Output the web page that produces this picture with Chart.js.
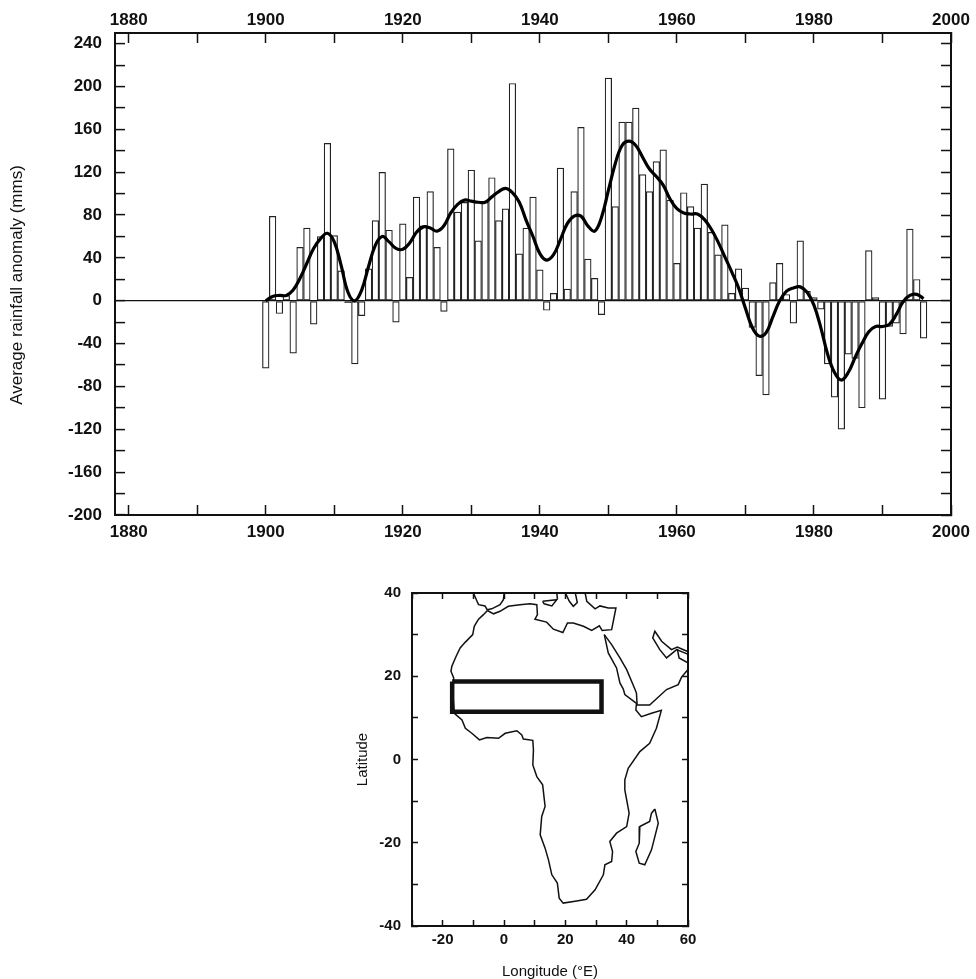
<!DOCTYPE html>
<html>
<head>
<meta charset="utf-8">
<title>Sahel rainfall anomaly</title>
<script src="https://cdn.jsdelivr.net/npm/chart.js@4"></script>
<style>
html, body { margin: 0; padding: 0; background: #fff; }
#wrap { position: relative; width: 976px; height: 979px; overflow: hidden; }
#wrap div { position: absolute; left: 0; width: 976px; }
#anomalyBox { top: 0; height: 560px; }
#mapBox { top: 560px; height: 419px; }
</style>
</head>
<body>
<div id="wrap">
    <div id="anomalyBox"><canvas id="anomalyChart"></canvas></div>
    <div id="mapBox"><canvas id="mapChart"></canvas></div>
</div>
<script>
// yearly anomaly, 1900 to 1996
var firstYear = 1900;
var rainAnomaly = [
    -63, 79, -12, 5, -49, 50, 68, -22, 60, 147,
    61, 28, -2, -59, -14, 30, 75, 120, 66, -20,
    72, 22, 97, 70, 102, 50, -10, 142, 83, 92,
    122, 56, 92, 115, 75, 86, 203, 44, 68, 97,
    29, -9, 7, 124, 11, 102, 162, 39, 21, -13,
    208, 88, 167, 167, 180, 118, 102, 130, 141, 94,
    35, 101, 88, 68, 109, 64, 43, 71, 7, 30,
    12, -25, -70, -88, 17, 35, 6, -21, 56, 9,
    3, -8, -59, -90, -120, -50, -54, -100, 47, 3,
    -92, -24, -21, -31, 67, 20, -35
];
// the smoothed heavy curve
var rainSmooth = [
    0, 4, 5, 5, 10, 21, 35, 49, 58, 63,
    55, 33, 8, 0, 10, 32, 52, 60, 55, 49,
    48, 54, 64, 69, 68, 65, 70, 82, 90, 94,
    93, 92, 92, 97, 102, 105, 101, 92, 75, 60,
    44, 38, 43, 57, 72, 79, 79, 70, 65, 78,
    103, 128, 145, 149, 145, 134, 123, 116, 108, 95,
    86, 82, 81, 81, 76, 67, 55, 41, 27, 12,
    -7, -25, -33, -30, -15, 0, 9, 12, 13, 8,
    -4, -25, -50, -67, -74, -67, -53, -40, -29, -24,
    -24, -22, -13, -1, 5, 6, 2
];

// outlines for the map, [longitude, latitude]
var africaCoast = [
    [-5.4, 35.8], [-6.7, 34.8], [-8.3, 33.7], [-9.7, 32], [-10.2, 30], [-12.6, 28.2], [-14.3, 26.8],
    [-15.6, 24.8], [-17, 22.4], [-17.3, 21.2], [-16.4, 19.6], [-16.7, 16], [-16.2, 11.1], [-13.7, 9.5],
    [-12.6, 7.5], [-10.5, 6.3], [-8, 4.7], [-5.6, 5.3], [-1.8, 5.1], [0.4, 6.3], [4.2, 6.9], [5.8, 5.9],
    [6.3, 4.9], [9.4, 4.6], [9.6, 2.3], [9.4, -1.3], [10.7, -4.1], [12.6, -6.1], [13.4, -11.3],
    [12.3, -13.7], [11.8, -18.1], [13.4, -21.3], [14.5, -24.1], [15.6, -27.7], [17.4, -29.7], [18, -33.3],
    [19.3, -34.5], [23.7, -34], [26.9, -33.6], [29.7, -31.3], [32.4, -27.7], [32.9, -25.3], [35.1, -24.5],
    [35.4, -22.1], [34.5, -19.7], [36.7, -17.7], [40, -16.1], [40.8, -12.9], [40.2, -10.5], [39.4, -7.3],
    [39.4, -4.9], [40.5, -2.1], [44.3, 1.9], [47.5, 3.9], [49.7, 7.5], [51.3, 11.8], [48.1, 11.1],
    [44.8, 10.3], [43, 11.9], [43.2, 13.5], [39.4, 15.6], [38.9, 16.9], [37.8, 18.4], [36.7, 22],
    [34, 25.6], [32.7, 30]
];
var northCoast = [
    [-5.4, 35.8], [-3.4, 35], [-1.3, 35.6], [1.4, 36.8], [5.2, 37.2], [8.5, 37.4], [10.7, 37.2],
    [10.9, 34.8], [10.1, 33.7], [13.9, 33], [16.1, 31.3], [19.2, 30.5], [20.7, 32.8], [22.6, 32.8],
    [25.9, 32], [28.6, 31], [31.1, 32.1], [32, 31], [35.1, 31.2], [36.5, 36.4], [34, 36.4], [31.3, 36.9],
    [29.7, 36.2], [27, 38], [26.4, 40.2]
];
var arabiaCoast = [
    [32.7, 30], [35.1, 27.6], [37.8, 24.4], [40, 21.6], [42.7, 16.9], [43.2, 15.9], [43.4, 13.1],
    [47.5, 13.1], [53, 16.8], [56.8, 18], [57.9, 19.8], [60, 21.6], [61, 21.6]
];
var gulfCoast = [
    [61, 25], [56.3, 26.4], [53, 24.4], [50.8, 26.4], [48.5, 29.2], [49.2, 30.8], [51.4, 28.4],
    [54.6, 26.4], [56.5, 27], [61, 25.6]
];
var omanCoast = [[56.5, 26.6], [57.1, 24.4], [61, 22.8]];
var spainCoast = [
    [-10.1, 40.2], [-8.8, 38], [-8.3, 37.2], [-6.2, 36.9], [-5.5, 36], [-4, 36.2], [-1.3, 37.2],
    [-0.2, 38.4], [0.1, 40.2]
];
var sicilyCoast = [[12.6, 38], [17.2, 38.4], [15.6, 36.9], [13.1, 37.4], [12.6, 38]];
var italyToe = [[17.4, 38.6], [17.2, 40.2]];
var greeceCoast = [[19.9, 40.2], [21.3, 38], [22.6, 36.8], [23.9, 37.7], [23.2, 40.2]];
var madagascar = [
    [49.2, -11.9], [48.1, -12.9], [47.5, -14.9], [44.3, -16.1], [44.1, -20.1], [43, -22.1], [44.1, -24.9],
    [45.9, -25.3], [48.1, -21.7], [50.3, -15.3], [49.2, -11.9]
];
var sahelBox = [[-16.9, 18.75], [31.8, 18.75], [31.8, 11.5], [-16.9, 11.5], [-16.9, 18.75]];

var ink = "#111";
var fontFamily = "'Liberation Sans', Arial, sans-serif";

function toPoints(list) {
    return list.map(function (p) {
        return {x: p[0], y: p[1]};
    });
}

function yearPoints(values) {
    return values.map(function (v, i) {
        return {x: firstYear + i, y: v};
    });
}

// makes one of the framing axes: ticks point inward, sizes are pinned with afterFit
function frameAxis(position, min, max, step, tickLen, labelEvery, fontSize, gap, fitSize) {
    var horizontal = position === "top" || position === "bottom";
    return {
        type: "linear",
        position: position,
        offset: false,
        min: min,
        max: max,
        border: {display: true, color: ink, width: 2},
        grid: {
            offset: false,
            drawOnChartArea: false,
            tickLength: -tickLen,
            tickColor: ink,
            tickWidth: 1.5
        },
        ticks: {
            display: labelEvery > 0,
            stepSize: step,
            includeBounds: false,
            autoSkip: false,
            maxRotation: 0,
            minRotation: 0,
            padding: gap + tickLen,
            color: ink,
            font: {family: fontFamily, size: fontSize, weight: "bold"},
            callback: function (v) {
                return labelEvery > 0 && v % labelEvery === 0 ? String(v) : "";
            }
        },
        afterFit: function (scale) {
            if (horizontal) {
                scale.height = fitSize;
            } else {
                scale.width = fitSize;
            }
            // labels at the ends may stick out, the plot box must not shrink for them
            scale.paddingLeft = 0;
            scale.paddingRight = 0;
            scale.paddingTop = 0;
            scale.paddingBottom = 0;
        }
    };
}

function lineSet(list, width) {
    return {
        type: "line",
        data: toPoints(list),
        xAxisID: "x",
        yAxisID: "y",
        borderColor: ink,
        borderWidth: width,
        pointRadius: 0,
        tension: 0,
        fill: false
    };
}

// y title of the top panel sits a little below the middle of the axis
var sideTitle = {
    id: "sideTitle",
    afterDraw: function (chart) {
        var c = chart.ctx;
        c.save();
        c.translate(17, 285);
        c.rotate(-Math.PI / 2);
        c.textAlign = "center";
        c.textBaseline = "middle";
        c.fillStyle = ink;
        c.font = "17px " + fontFamily;
        c.fillText("Average rainfall anomaly (mms)", 0, 0);
        c.restore();
    }
};

function renderAnomaly() {
    var scales = {
        x: frameAxis("bottom", 1878, 2000, 10, 10, 20, 17, 7, 45),
        xTop: frameAxis("top", 1878, 2000, 10, 10, 20, 17, 2, 33),
        y: frameAxis("left", -200, 250, 20, 10, 40, 17, 13, 115),
        yRight: frameAxis("right", -200, 250, 20, 10, 0, 17, 0, 25)
    };
    // zero line runs the whole width of the panel
    scales.y.grid.drawOnChartArea = true;
    scales.y.grid.color = function (ctx) {
        return ctx.tick && ctx.tick.value === 0 ? ink : "rgba(0,0,0,0)";
    };
    scales.y.grid.lineWidth = 1.2;

    new Chart(document.getElementById("anomalyChart"), {
        type: "bar",
        data: {
            datasets: [{
                type: "line",
                data: yearPoints(rainSmooth),
                xAxisID: "x",
                yAxisID: "y",
                borderColor: "#000",
                borderWidth: 3.2,
                pointRadius: 0,
                tension: 0.4,
                fill: false,
                order: 1
            }, {
                type: "bar",
                data: yearPoints(rainAnomaly),
                xAxisID: "x",
                yAxisID: "y",
                backgroundColor: "rgba(0,0,0,0)",
                borderColor: "#222",
                borderWidth: 0.8,
                borderSkipped: false,
                inflateAmount: 0.2,
                barPercentage: 1,
                categoryPercentage: 1,
                order: 2
            }]
        },
        options: {
            responsive: true,
            maintainAspectRatio: false,
            animation: false,
            layout: {padding: 0},
            plugins: {legend: {display: false}, tooltip: {enabled: false}},
            scales: scales
        },
        plugins: [sideTitle]
    });
}

function renderMap() {
    var scales = {
        x: frameAxis("bottom", -30, 60, 10, 6, 20, 15, 5, 53),
        xTop: frameAxis("top", -30, 60, 10, 6, 0, 15, 0, 33),
        y: frameAxis("left", -40, 40, 10, 6, 20, 15, 11, 412),
        yRight: frameAxis("right", -40, 40, 10, 6, 0, 15, 0, 288)
    };
    scales.x.title = {
        display: true,
        text: "Longitude (\u00b0E)",
        color: ink,
        font: {family: fontFamily, size: 15},
        padding: {top: 0, bottom: -2}
    };
    scales.y.title = {
        display: true,
        text: "Latitude",
        color: ink,
        font: {family: fontFamily, size: 15},
        padding: {top: 354, bottom: 0}
    };

    var outlines = [africaCoast, northCoast, arabiaCoast, gulfCoast, omanCoast, spainCoast,
        sicilyCoast, italyToe, greeceCoast, madagascar];
    var sets = outlines.map(function (list) {
        return lineSet(list, 1.5);
    });
    sets.push(lineSet(sahelBox, 4.5));

    new Chart(document.getElementById("mapChart"), {
        type: "scatter",
        data: {datasets: sets},
        options: {
            responsive: true,
            maintainAspectRatio: false,
            animation: false,
            layout: {padding: 0},
            plugins: {legend: {display: false}, tooltip: {enabled: false}},
            scales: scales
        }
    });
}

renderAnomaly();
renderMap();
</script>
</body>
</html>
